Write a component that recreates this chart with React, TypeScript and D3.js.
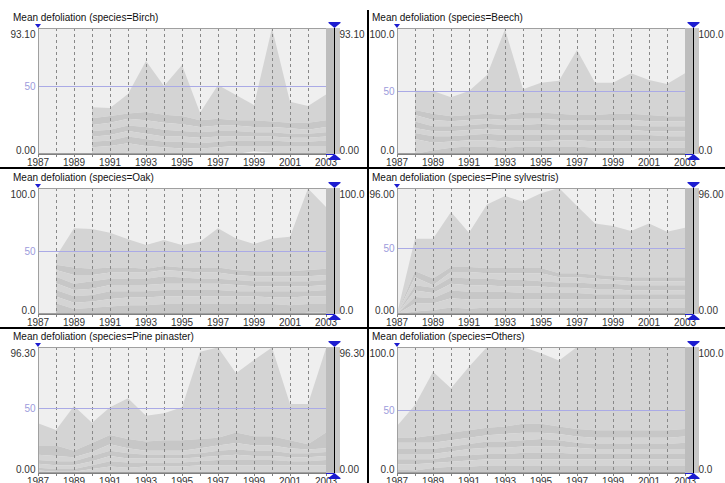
import React from "react";
import * as d3 from "d3";

const years = [1987, 1988, 1989, 1990, 1991, 1992, 1993, 1994, 1995, 1996, 1997, 1998, 1999, 2000, 2001, 2002, 2003];
const tickYears = [1987, 1989, 1991, 1993, 1995, 1997, 1999, 2001, 2003];
const species = ["Birch", "Beech", "Oak", "Pine sylvestris", "Pine pinaster", "Others"];
const axisMax = [93.1, 100, 100, 96, 96.3, 100];
const maxLabels = ["93.10", "100.0", "100.0", "96.00", "96.30", "100.0"];
const zeroLabels = ["0.00", "0.0", "0.0", "0.00", "0.00", "0.0"];

const n = null;

// each species: envelope max first, then the inner quantile lines down to the lowest
const birch = [
  [n, n, n, 34.5, 34, 44.3, 68.7, 50.2, 65.8, 30.5, 51, 43.6, 36.2, 93.1, 38.6, 35.5, 44],
  [n, n, n, 26.5, 28, 30, 31, 29, 28, 25, 26, 25, 25, 24, 23, 23, 25],
  [n, n, n, 21.5, 23, 26, 25, 23, 22, 20, 21, 21, 20, 20, 19, 18, 20],
  [n, n, n, 17, 18, 21, 20, 18, 17, 16, 17, 17, 16, 16, 15, 15, 16],
  [n, n, n, 12.8, 14, 17, 15, 13, 13, 12, 13, 13, 13, 13, 12, 12, 13],
  [n, n, n, 9, 10, 13, 11, 9, 9, 8, 9, 10, 10, 10, 9, 9, 10],
  [n, n, n, 5, 6, 8, 6, 5, 4, 4, 5, 6, 6, 6, 6, 6, 6],
  [n, n, n, 0, 0, 1, 0, 0, 0, 0, 0, 0, 2, 1, 0, 0, 0],
];

const beech = [
  [n, 50.2, 50, 45, 50, 62.7, 99, 51.3, 56.6, 58.2, 82.5, 56.6, 56.6, 64, 58.7, 55.5, 64],
  [n, 35, 32, 30, 31, 32, 31, 33, 33, 32, 31, 31, 32, 32, 31, 30, 30],
  [n, 31, 27, 26, 27, 28, 27, 28, 28, 27, 27, 27, 27, 27, 26, 26, 26],
  [n, 25.7, 22, 22, 23, 24, 23, 23, 24, 23, 23, 23, 23, 23, 22, 22, 22],
  [n, 20.6, 18, 18, 19, 20, 19, 19, 19, 19, 19, 19, 19, 19, 18, 18, 18],
  [n, 16.6, 14, 14, 15, 16, 15, 15, 15, 15, 15, 15, 15, 15, 15, 14, 14],
  [n, 11.9, 9, 10, 11, 11, 10, 10, 10, 11, 11, 10, 10, 10, 10, 10, 10],
  [n, 0, 3, 5, 6, 6, 5, 6, 6, 6, 6, 5, 5, 5, 5, 5, 5],
  [n, 0, 0, 0, 0, 0, 0, 0, 0, 0, 0, 0, 0, 0, 0, 0, 0],
];

const oak = [
  [n, 45.5, 68, 67.5, 64.5, 59.3, 54.8, 58.7, 54.8, 57.4, 68, 60, 55.6, 60, 61.4, 99.7, 85],
  [n, 39, 37, 36, 37, 37, 36, 38, 37, 37, 37, 35, 34, 34, 34, 35, 36],
  [n, 35, 31, 31, 33, 33, 33, 35, 34, 33, 33, 31, 30, 30, 30, 30, 31],
  [n, 29.6, 24, 26, 28, 28, 28, 30, 29, 28, 28, 27, 26, 26, 26, 26, 27],
  [n, 24.5, 19, 20, 23, 23, 23, 24, 24, 24, 24, 23, 22, 22, 22, 22, 23],
  [n, 19, 14, 15, 18, 18, 18, 19, 19, 19, 19, 18, 18, 18, 18, 18, 19],
  [n, 13.8, 9, 10, 12, 13, 13, 14, 14, 14, 14, 14, 14, 13, 13, 14, 14],
  [n, 8.5, 4, 5, 6, 7, 7, 8, 8, 8, 8, 8, 8, 8, 7, 8, 8],
  [n, 0, 0, 0, 0, 0, 0, 0, 0, 0, 0, 0, 0, 0, 0, 1, 1],
];

const pineSylvestris = [
  [0, 57.4, 57.4, 77.7, 62, 83.5, 89.9, 85.6, 92, 96, 82.3, 69, 67, 63.2, 69, 62.7, 65.8],
  [0, 32.8, 27, 35.8, 35.8, 35, 35, 35, 35, 31, 31, 30, 29, 28, 28, 28, 28],
  [0, 28, 22, 32, 32, 31, 31, 31, 31, 28, 28, 27, 26, 25, 25, 25, 25],
  [0, 22, 20, 28, 27, 27, 26, 26, 25, 24, 24, 23, 23, 22, 22, 22, 22],
  [0, 18, 16, 23, 22, 22, 21, 21, 21, 20, 20, 19, 19, 18, 18, 18, 18],
  [0, 13, 12, 18, 17, 17, 17, 16, 16, 16, 16, 15, 15, 15, 15, 15, 15],
  [0, 8, 8, 12, 11, 11, 11, 11, 11, 11, 11, 11, 11, 11, 11, 11, 11],
  [0, 2, 3, 5, 4, 5, 5, 5, 5, 5, 5, 5, 5, 5, 5, 5, 5],
  [0, 0, 0, 0, 0, 0, 0, 0, 0, 0, 0, 0, 0, 0, 0, 0, 0],
];

const pinePinaster = [
  [38, 32.9, 51.2, 38.5, 50.2, 57.1, 43.8, 45.6, 50.2, 92.7, 96, 76.2, 86.4, 96, 52.7, 52.7, 95.3],
  [21, 21, 17, 23, 29, 26, 24, 25, 25, 26, 27, 31, 28, 28, 25, 22, 31],
  [14, 13, 12, 16, 22, 19, 17, 17, 17, 19, 21, 23, 21, 21, 19, 18, 19],
  [10, 9, 9, 13, 17, 15, 14, 14, 14, 15, 17, 18, 17, 17, 15, 15, 16],
  [7, 6, 6, 9, 13, 11, 11, 11, 11, 12, 13, 14, 13, 13, 12, 12, 13],
  [4, 3, 3, 6, 9, 8, 8, 8, 8, 9, 10, 10, 10, 10, 9, 9, 10],
  [2, 1, 1, 3, 5, 4, 5, 5, 5, 6, 6, 6, 6, 6, 6, 6, 6],
  [0, 0, 0, 0, 1, 0, 0, 0, 0, 0, 1, 0, 0, 0, 0, 0, 0],
];

const others = [
  [37.3, 54, 80.4, 67.2, 84.4, 100, 100, 100, 95, 89.2, 100, 100, 100, 100, 100, 100, 100],
  [28, 28, 30, 32, 34, 36, 37, 39, 39, 37, 35, 34, 34, 34, 34, 34, 35],
  [24, 24, 24, 26, 28, 30, 31, 32, 32, 31, 29, 28, 28, 28, 28, 28, 29],
  [19, 19, 19, 21, 23, 25, 25, 26, 27, 26, 24, 23, 23, 23, 23, 23, 24],
  [15, 15, 15, 17, 19, 20, 20, 21, 21, 21, 20, 19, 19, 19, 19, 19, 19],
  [11, 11, 11, 13, 14, 15, 15, 16, 16, 16, 15, 15, 15, 15, 15, 15, 15],
  [7, 7, 8, 9, 10, 11, 11, 11, 11, 11, 11, 11, 11, 11, 11, 11, 11],
  [3, 2, 4, 5, 5, 6, 6, 6, 6, 6, 6, 6, 6, 6, 6, 6, 6],
  [0, 0, 0, 0, 0, 0, 0, 0, 0, 0, 0, 0, 0, 0, 0, 0, 0],
];

const panelData = [birch, beech, oak, pineSylvestris, pinePinaster, others];

const W = 288;
const H = 126;
const colLeft = [38, 397];
const rowTop = [28, 188, 347];
const bandColors = ["#d4d4d4", "#c7c7c7"];
const font = "'Liberation Sans', Arial, sans-serif";
const px = (v: number) => Math.round(v) + 0.5;

function Panel({ idx }: { idx: number }) {
  const left = colLeft[idx % 2];
  const top = rowTop[Math.floor(idx / 2)];
  const bottom = top + H;
  const right = left + W;
  const lx = right + 8;
  const lines = panelData[idx];

  const x = d3.scaleLinear().domain([1987, 2003]).range([left, right]);
  const y = d3.scaleLinear().domain([0, axisMax[idx]]).range([bottom, top]);

  const bands = lines.slice(0, -1).map((upper, i) => {
    const lower = lines[i + 1];
    const pts = years.map((yr, j) => ({ yr, hi: upper[j], lo: lower[j] }));
    const area = d3
      .area<any>()
      .defined((d) => d.hi != null && d.lo != null)
      .x((d) => x(d.yr))
      .y0((d) => y(d.lo))
      .y1((d) => y(d.hi));
    return <path key={i} d={area(pts) || ""} fill={bandColors[i % 2]} />;
  });

  const txt = { fontFamily: font, fontSize: 10, fill: "#333" };
  const blue = "#1c1cd0";

  return (
    <g>
      <text x={left - 25} y={top - 7} style={{ ...txt, fill: "#111" }}>
        {`Mean defoliation (species=${species[idx]})`}
      </text>
      <rect x={left} y={top} width={W} height={H} fill="#efefef" />
      {bands}
      {years.slice(1, -1).map((yr) => (
        <line key={yr} x1={px(x(yr))} x2={px(x(yr))} y1={top} y2={bottom} stroke="#888" strokeDasharray="3,3" />
      ))}
      <line x1={left} x2={right} y1={px(y(50))} y2={px(y(50))} stroke="#aaaae6" />
      <rect x={left + 0.5} y={top + 0.5} width={W} height={H - 1} fill="none" stroke="#a0a0a0" />
      <line x1={left} x2={right} y1={bottom + 0.5} y2={bottom + 0.5} stroke="#808080" />
      {years.map((yr) => (
        <line key={yr} x1={px(x(yr))} x2={px(x(yr))} y1={bottom} y2={bottom + 3} stroke="#808080" />
      ))}
      {tickYears.map((yr) => (
        <text key={yr} x={x(yr)} y={bottom + 12} textAnchor="middle" style={txt}>
          {yr}
        </text>
      ))}
      <rect x={right} y={top} width={14} height={H} fill="#c8c8c8" />
      <rect x={right} y={top} width={8} height={H} fill="#bdbdbd" />
      <line x1={lx + 0.5} x2={lx + 0.5} y1={top} y2={bottom} stroke="#000" />
      <path d={`M${left - 3},${top - 4}L${left + 3},${top - 4}L${left},${top}Z`} fill={blue} />
      <path d={`M${lx - 5.5},${top - 6}H${lx + 6.5}V${top - 5}L${lx + 0.5},${top}L${lx - 5.5},${top - 5}Z`} fill={blue} />
      <path d={`M${lx - 5.5},${bottom + 6}H${lx + 6.5}V${bottom + 5}L${lx + 0.5},${bottom}L${lx - 5.5},${bottom + 5}Z`} fill={blue} />
      <line x1={right} x2={lx} y1={bottom + 0.5} y2={bottom + 0.5} stroke={blue} />
      <text x={left - 2.5} y={top + 9.5} textAnchor="end" style={txt}>{maxLabels[idx]}</text>
      <text x={left - 2.5} y={bottom} textAnchor="end" style={txt}>{zeroLabels[idx]}</text>
      <text x={left - 2.5} y={y(50) + 4} textAnchor="end" style={{ ...txt, fill: "#9c9cdc" }}>50</text>
      <text x={right + 13.5} y={top + 9.5} style={txt}>{maxLabels[idx]}</text>
      <text x={right + 13.5} y={bottom} style={txt}>{zeroLabels[idx]}</text>
    </g>
  );
}

export default function App() {
  return (
    <svg
      width={725}
      height={483}
      viewBox="0 0 725 483"
      style={{ position: "absolute", left: 0, top: 0, background: "#fff" }}
    >
      <rect width={725} height={483} fill="#fff" />
      {species.map((_, i) => (
        <Panel key={i} idx={i} />
      ))}
      <line x1={368} x2={368} y1={10} y2={483} stroke="#000" strokeWidth={2} />
      <line x1={0} x2={725} y1={168} y2={168} stroke="#000" strokeWidth={2} />
      <line x1={0} x2={725} y1={328} y2={328} stroke="#000" strokeWidth={2} />
    </svg>
  );
}
